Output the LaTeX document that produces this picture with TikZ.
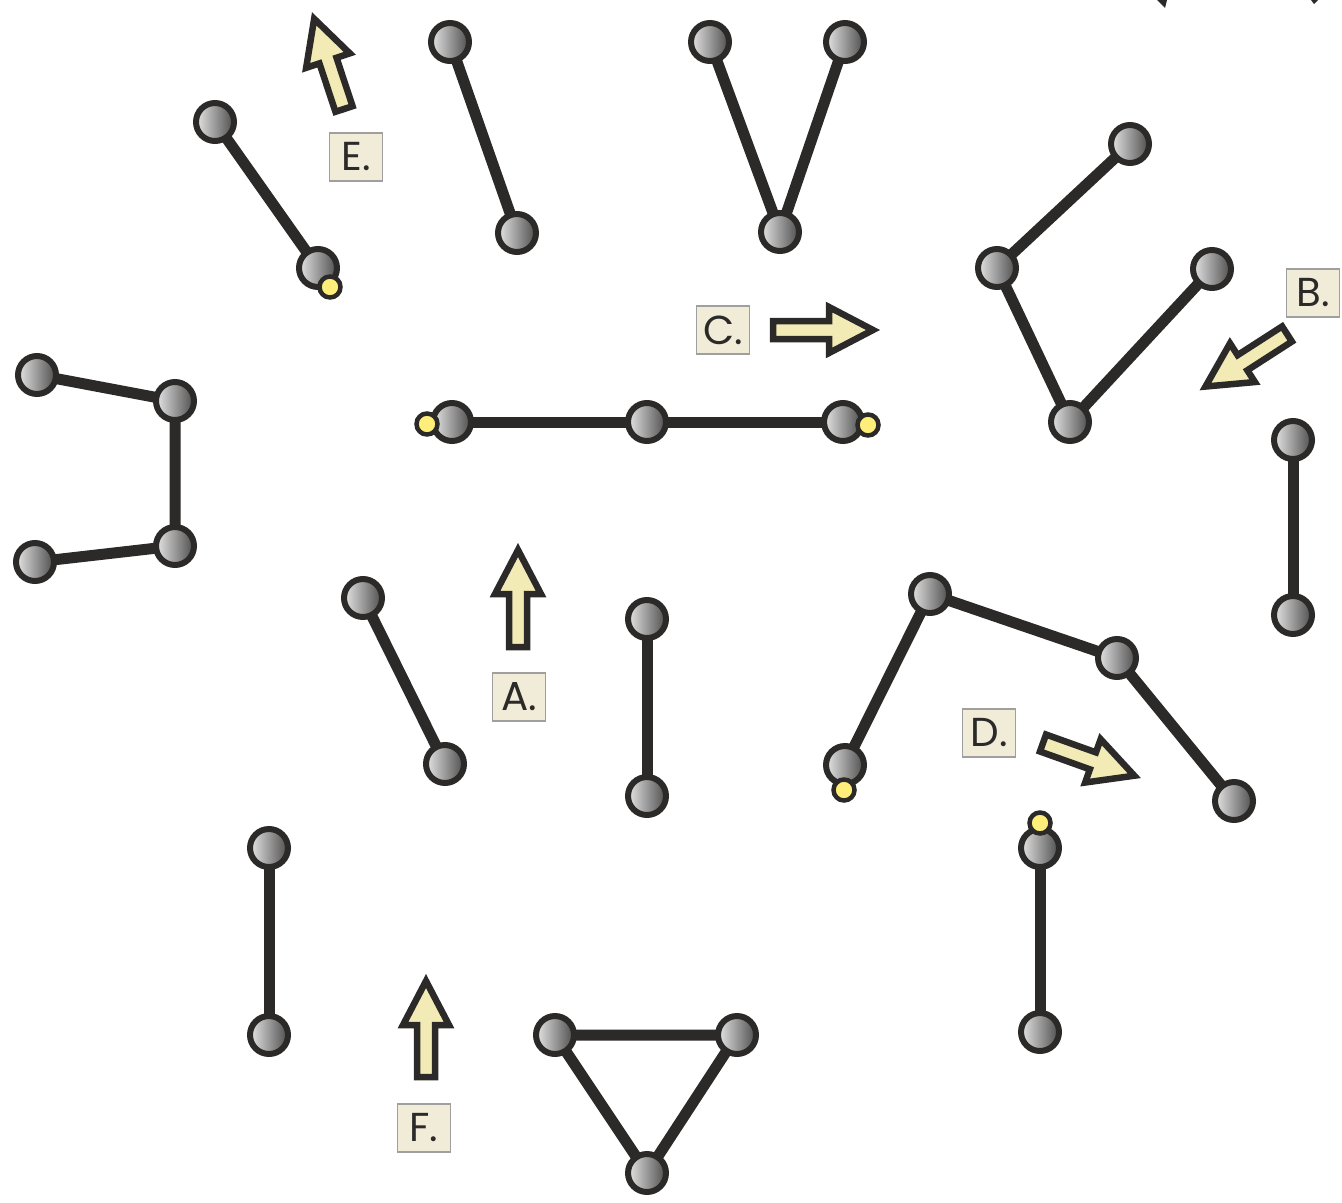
\documentclass[tikz,border=0pt]{standalone}
\usepackage{fontspec}
\setmainfont{Poppins}
\usetikzlibrary{backgrounds}
\definecolor{linec}{HTML}{2B2A29}
\definecolor{ylw}{HTML}{FFEE7A}
\definecolor{arrf}{HTML}{F3EBB5}
\definecolor{labf}{HTML}{F1ECD8}
\tikzset{
  ball/.style={circle, minimum size=0.76cm, inner sep=0pt, line width=0.12cm, draw=linec, left color=gray!20, right color=black!70},
  ybal/.style={circle, minimum size=0.42cm, inner sep=0pt, line width=0.09cm, draw=linec, fill=ylw},
  link/.style={line width=0.22cm, draw=linec},
  lab/.style={draw=gray!75, fill=labf, line width=0.03cm, minimum width=1.06cm, minimum height=0.96cm, inner sep=0pt, font=\fontsize{23}{23}\selectfont, text=linec},
  arrowst/.style={fill=arrf, draw=linec, line width=0.13cm, line join=miter}
}
\newcommand\fatarrow[4]{%
  \begin{scope}[shift={(#1,#2)}, rotate=#3]
    \filldraw[arrowst] (0,-9) -- ({#4-44},-9) -- ({#4-44},-23) -- (#4,0) -- ({#4-44},23) -- ({#4-44},9) -- (0,9) -- cycle;
  \end{scope}}
\begin{document}
\begin{tikzpicture}[x=0.02cm, y=-0.02cm]
\useasboundingbox (0,0) rectangle (1342,1203);
% grey balls
\node[ball] (e1) at (215,122) {};
\node[ball] (e2) at (318,268) {};
\node[ball] (s1) at (450,42) {};
\node[ball] (s2) at (517,233) {};
\node[ball] (v1) at (710,42) {};
\node[ball] (v2) at (780,232) {};
\node[ball] (v3) at (845,42) {};
\node[ball] (r1) at (1130,144) {};
\node[ball] (r2) at (997,268) {};
\node[ball] (r3) at (1070,422) {};
\node[ball] (r4) at (1212,269) {};
\node[ball] (l1) at (37,375) {};
\node[ball] (l2) at (175,401) {};
\node[ball] (l3) at (175,546) {};
\node[ball] (l4) at (35,562) {};
\node[ball] (c1) at (452,422) {};
\node[ball] (c2) at (647,422) {};
\node[ball] (c3) at (843,422) {};
\node[ball] (rv1) at (1293,440) {};
\node[ball] (rv2) at (1293,615) {};
\node[ball] (d1) at (363,598) {};
\node[ball] (d2) at (445,764) {};
\node[ball] (m1) at (647,619) {};
\node[ball] (m2) at (647,796) {};
\node[ball] (z1) at (845,765) {};
\node[ball] (z2) at (930,594) {};
\node[ball] (z3) at (1117,658) {};
\node[ball] (z4) at (1234,801) {};
\node[ball] (b1) at (269,848) {};
\node[ball] (b2) at (269,1035) {};
\node[ball] (t1) at (555,1035) {};
\node[ball] (t2) at (737,1035) {};
\node[ball] (t3) at (647,1173) {};
\node[ball] (k1) at (1040,848) {};
\node[ball] (k2) at (1040,1032) {};
% yellow balls
\node[ybal] (y1) at (330,287) {};
\node[ybal] (y2) at (427,424) {};
\node[ybal] (y3) at (868,425) {};
\node[ybal] (y4) at (844,790) {};
\node[ybal] (y5) at (1040,823) {};
% links
\begin{scope}[on background layer]
\draw[link] (e1.center) -- (e2.center);
\draw[link] (s1.center) -- (s2.center);
\draw[link] (v1.center) -- (v2.center) -- (v3.center);
\draw[link] (r1.center) -- (r2.center) -- (r3.center) -- (r4.center);
\draw[link] (l1.center) -- (l2.center) -- (l3.center) -- (l4.center);
\draw[link] (c1.center) -- (c2.center) -- (c3.center);
\draw[link] (rv1.center) -- (rv2.center);
\draw[link] (d1.center) -- (d2.center);
\draw[link] (m1.center) -- (m2.center);
\draw[link] (z1.center) -- (z2.center) -- (z3.center) -- (z4.center);
\draw[link] (b1.center) -- (b2.center);
\draw[link] (t1.center) -- (t2.center) -- (t3.center) -- cycle;
\draw[link] (k1.center) -- (k2.center);
\end{scope}
% block arrows
\fatarrow{344}{109}{108.3}{95}
\fatarrow{773}{330}{0}{100}
\fatarrow{1287}{334}{212.8}{97}
\fatarrow{518}{647}{90}{97}
\fatarrow{1043}{743}{-19.7}{97}
\fatarrow{426}{1077}{90}{96}
% labels
\node[lab] (le) at (356,157) {E.};
\node[lab] (lc) at (723,330) {C.};
\node[lab] (lb) at (1313,293) {B.};
\node[lab] (la) at (519,697) {A.};
\node[lab] (ld) at (989,733) {D.};
\node[lab] (lf) at (424,1128) {F.};
% cropped marks at top edge
\fill[linec] (1157,0) -- (1167,0) -- (1165,8) -- cycle;
\fill[linec] (1311,0) -- (1318,0) -- (1314,4) -- cycle;
\end{tikzpicture}
\end{document}
